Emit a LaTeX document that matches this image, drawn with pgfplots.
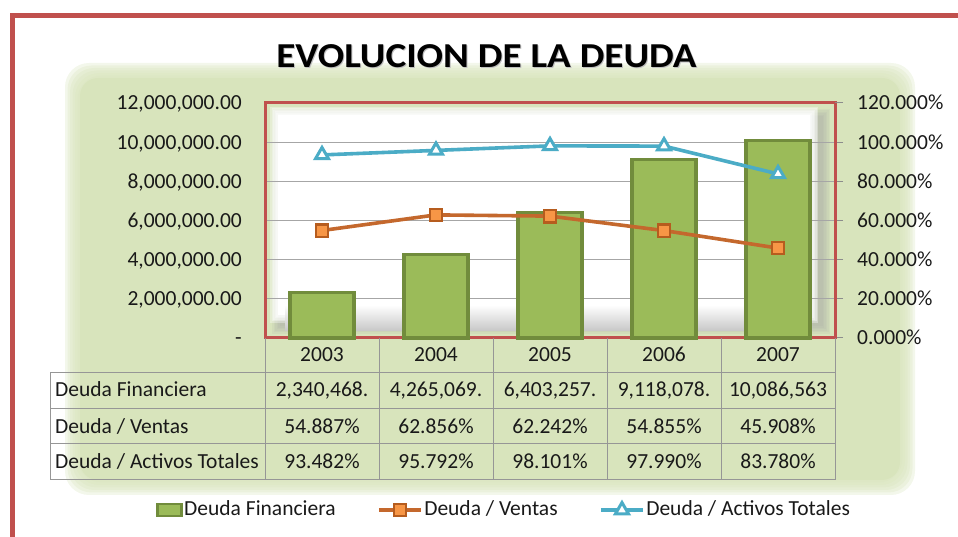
\documentclass[border=0pt]{standalone}
\usepackage{fontspec}
\setmainfont{Carlito}
\usepackage{pgfplots}
\pgfplotsset{compat=1.18}

\definecolor{excelred}{RGB}{192,80,77}
\definecolor{barfill}{RGB}{155,187,89}
\definecolor{baredge}{RGB}{113,140,60}
\definecolor{oline}{RGB}{196,104,45}
\definecolor{ofill}{RGB}{247,150,70}
\definecolor{oedge}{RGB}{182,92,30}
\definecolor{bline}{RGB}{75,172,198}
\definecolor{bggreen}{RGB}{216,228,188}
\definecolor{tgray}{RGB}{150,150,150}
\definecolor{txt}{RGB}{25,25,25}

\pgfplotsset{
  lineleg/.style={legend image code/.code={\draw[mark repeat=2, mark phase=2, ##1] plot coordinates {(0pt,0pt) (21pt,0pt) (42pt,0pt)};}},
  barleg/.style={legend image code/.code={\draw[fill=barfill, draw=baredge, line width=2.5pt] (0pt,-6pt) rectangle (24pt,6pt);}},
}

\begin{document}
\fontsize{21.5}{25}\selectfont
\begin{tikzpicture}[x=1pt,y=1pt]
\useasboundingbox (0,0) rectangle (958,537);

% outer frame
\draw[excelred, line width=5pt] (12.5,0) -- (12.5,521.5) -- (958,521.5);

% soft green panel
\foreach \i in {0,...,5} {
  \fill[bggreen, opacity=0.3, rounded corners=24pt] (65+2.5*\i,42+2.5*\i) rectangle (915-2.5*\i,474-2.5*\i);
}
\fill[bggreen, rounded corners=18pt] (80,57) rectangle (900,459);

% title
\node[text=black!25, xscale=1.12, font=\bfseries\fontsize{35}{40}\selectfont] at (487.5,480) {EVOLUCION DE LA DEUDA};
\node[text=black, xscale=1.12, font=\bfseries\fontsize{35}{40}\selectfont] at (486.5,481) {EVOLUCION DE LA DEUDA};

% plot area: white panel with blurred shadow
\fill[bggreen] (265,199) rectangle (835,434);
\foreach \i in {0,...,5} {
  \fill[black!35, opacity=0.12] (272+1.5*\i,203+1.5*\i) rectangle (830-1.5*\i,428-1.5*\i);
}
\foreach \i in {0,...,5} {
  \fill[white, opacity=0.35] (270+1.5*\i,214+1.5*\i) rectangle (818-1.5*\i,430-1.5*\i);
}
\fill[white] (278,222) rectangle (810,422);
\shade[top color=white, bottom color=black!22] (285,206) rectangle (812,232);

% bars (left axis)
\begin{axis}[
  at={(265pt,199pt)}, anchor=south west,
  width=570pt, height=235pt, scale only axis,
  xmin=-0.5, xmax=4.5, ymin=0, ymax=12000000,
  scaled y ticks=false,
  axis line style={draw=excelred, line width=3pt},
  xtick={0,1,2,3,4}, xticklabels={2003,2004,2005,2006,2007},
  xticklabel style={anchor=base, yshift=-23.5pt, text=txt},
  ytick={0,2000000,4000000,6000000,8000000,10000000,12000000},
  yticklabels={{-\hspace{12pt}},{2,000,000.00},{4,000,000.00},{6,000,000.00},{8,000,000.00},{10,000,000.00},{12,000,000.00}},
  yticklabel style={anchor=mid east, inner sep=0pt, xshift=-23pt, yshift=-1.8pt, text=txt},
  major tick length=0pt,
  ymajorgrids, grid style={draw=black!35, line width=1pt},
  clip=false,
]
\addplot[ybar, bar width=64pt, fill=barfill, draw=baredge, line width=3.2pt]
  coordinates {(0,2340468) (1,4265069) (2,6403257) (3,9118078) (4,10086563)};
\end{axis}

% lines (right axis) + legend
\begin{axis}[
  at={(265pt,199pt)}, anchor=south west,
  width=570pt, height=235pt, scale only axis,
  xmin=-0.5, xmax=4.5, ymin=0, ymax=120,
  axis x line=none, axis y line*=right,
  y axis line style={draw=excelred, line width=3pt},
  ytick={0,20,40,60,80,100,120},
  yticklabels={0.000\%,20.000\%,40.000\%,60.000\%,80.000\%,100.000\%,120.000\%},
  yticklabel style={anchor=mid west, inner sep=0pt, xshift=14pt, yshift=-1.8pt, text=txt},
  tick align=outside, major tick length=8pt,
  ytick style={draw=black!45, line width=1pt},
  clip=false,
  legend columns=3,
  legend style={at={(0.419,-0.732)}, anchor=center, draw=none, fill=none,
    font=\fontsize{21.5}{25}\selectfont, text=txt,
    nodes={inner sep=1.5pt},
    /tikz/every even column/.append style={column sep=40pt}},
]
\addlegendimage{barleg}
\addplot[color=oline, line width=3.6pt, mark=square*, mark size=6.2pt,
  mark options={fill=ofill, draw=oedge, line width=2.4pt}, lineleg]
  coordinates {(0,54.887) (1,62.856) (2,62.242) (3,54.855) (4,45.908)};
\addplot[color=bline, line width=3.6pt, mark=triangle*, mark size=7.5pt,
  mark options={fill=white, draw=bline, line width=3pt}, lineleg]
  coordinates {(0,93.482) (1,95.792) (2,98.101) (3,97.990) (4,83.780)};
\legend{Deuda Financiera, Deuda / Ventas, Deuda / Activos Totales}
\end{axis}

% data table
\begin{scope}[tgray, line width=1pt]
\foreach \x in {265,379,493,607,721,835} { \draw (\x,199) -- (\x,57); }
\draw (50,164) -- (50,57);
\foreach \y in {164,128,93,57} { \draw (50,\y) -- (835,\y); }
\end{scope}
\begin{scope}[every node/.style={text=txt, inner sep=0pt, anchor=base}]
\node[anchor=base west] at (55,140.5) {Deuda Financiera};
\node[anchor=base west] at (55,103.5) {Deuda / Ventas};
\node[anchor=base west] at (55,68.5) {Deuda / Activos Totales};
\node at (322,140.5) {2,340,468.};
\node at (436,140.5) {4,265,069.};
\node at (550,140.5) {6,403,257.};
\node at (664,140.5) {9,118,078.};
\node at (778,140.5) {10,086,563};
\node at (322,103.5) {54.887\%};
\node at (436,103.5) {62.856\%};
\node at (550,103.5) {62.242\%};
\node at (664,103.5) {54.855\%};
\node at (778,103.5) {45.908\%};
\node at (322,68.5) {93.482\%};
\node at (436,68.5) {95.792\%};
\node at (550,68.5) {98.101\%};
\node at (664,68.5) {97.990\%};
\node at (778,68.5) {83.780\%};
\end{scope}
\end{tikzpicture}
\end{document}
